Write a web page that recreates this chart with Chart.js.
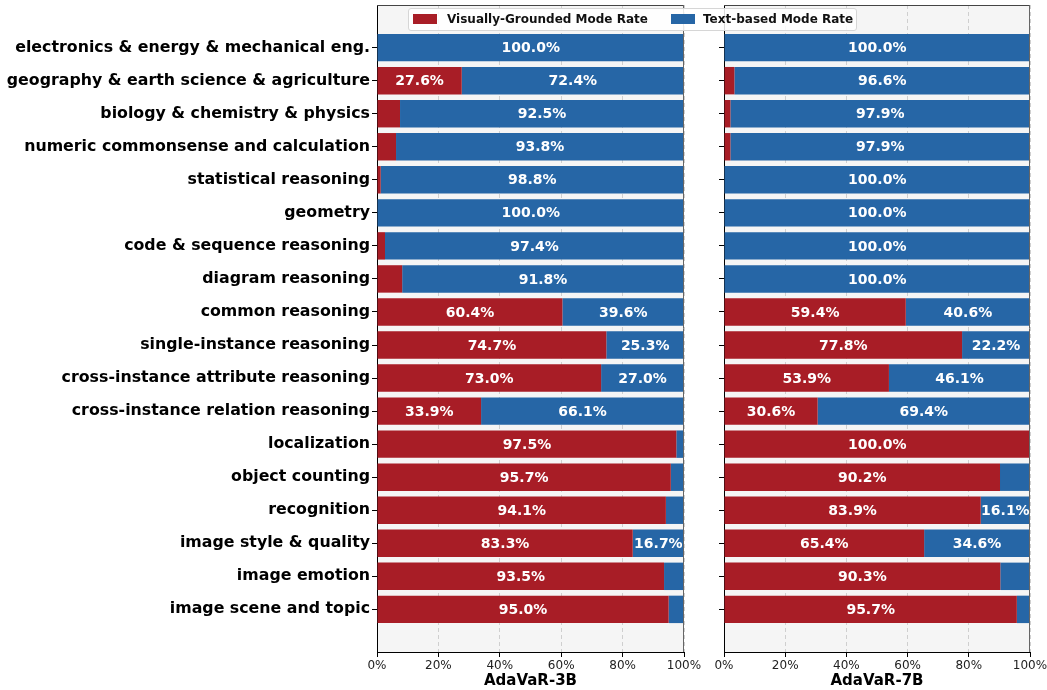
<!DOCTYPE html>
<html>
<head>
<meta charset="utf-8">
<script src="https://cdn.jsdelivr.net/npm/chart.js@4.4.0/dist/chart.umd.min.js"></script>
<style>
  html, body { margin: 0; padding: 0; background: #ffffff; }
  #wrap { position: relative; width: 1047px; height: 690px; font-family: "DejaVu Sans", sans-serif; }
  canvas { position: absolute; left: 0; top: 0; }
  #legend { position: absolute; left: 408px; top: 8px; width: 447px; height: 21px;
    background: rgba(255,255,255,0.85); border: 1px solid #d6d6d6; border-radius: 3px;
    font-weight: bold; font-size: 12px; color: #111; z-index: 5; }
  .sw { position: absolute; top: 5px; width: 24px; height: 10px; }
  .lt { position: absolute; top: 3px; line-height: 14px; white-space: nowrap; }
</style>
</head>
<body>
<div id="wrap">
  <canvas id="c1" width="1047" height="690"></canvas>
  <canvas id="c2" width="1047" height="690"></canvas>
  <div id="legend">
    <div class="sw" style="left:4px;background:rgb(168,29,38)"></div>
    <div class="lt" style="left:38px">Visually-Grounded Mode Rate</div>
    <div class="sw" style="left:262px;background:rgb(38,102,166)"></div>
    <div class="lt" style="left:294px">Text-based Mode Rate</div>
  </div>
</div>
<script>
const categories = [
  "electronics & energy & mechanical eng.",
  "geography & earth science & agriculture",
  "biology & chemistry & physics",
  "numeric commonsense and calculation",
  "statistical reasoning",
  "geometry",
  "code & sequence reasoning",
  "diagram reasoning",
  "common reasoning",
  "single-instance reasoning",
  "cross-instance attribute reasoning",
  "cross-instance relation reasoning",
  "localization",
  "object counting",
  "recognition",
  "image style & quality",
  "image emotion",
  "image scene and topic"
];
const seriesNames = ["Visually-Grounded Mode Rate", "Text-based Mode Rate"];
const visual3B = [0.0, 27.6, 7.5, 6.2, 1.2, 0.0, 2.6, 8.2, 60.4, 74.7, 73.0, 33.9, 97.5, 95.7, 94.1, 83.3, 93.5, 95.0];
const text3B   = [100.0, 72.4, 92.5, 93.8, 98.8, 100.0, 97.4, 91.8, 39.6, 25.3, 27.0, 66.1, 2.5, 4.3, 5.9, 16.7, 6.5, 5.0];
const visual7B = [0.0, 3.4, 2.1, 2.1, 0.0, 0.0, 0.0, 0.0, 59.4, 77.8, 53.9, 30.6, 100.0, 90.2, 83.9, 65.4, 90.3, 95.7];
const text7B   = [100.0, 96.6, 97.9, 97.9, 100.0, 100.0, 100.0, 100.0, 40.6, 22.2, 46.1, 69.4, 0.0, 9.8, 16.1, 34.6, 9.7, 4.3];
const xTicks = [0, 20, 40, 60, 80, 100];
const panelTitles = ["AdaVaR-3B", "AdaVaR-7B"];

const RED = "rgb(168,29,38)";
const BLUE = "rgb(38,102,166)";

Chart.defaults.font.family = "'DejaVu Sans', sans-serif";
Chart.defaults.color = "#111";

const bgPlugin = {
  id: "bgPlugin",
  beforeDraw(chart) {
    const a = chart.chartArea, ctx = chart.ctx;
    ctx.save();
    ctx.fillStyle = "#f5f5f5";
    ctx.fillRect(a.left, a.top, a.right - a.left, a.bottom - a.top);
    ctx.restore();
  },
  afterDraw(chart) {
    const a = chart.chartArea, ctx = chart.ctx;
    ctx.save();
    ctx.lineWidth = 1;
    ctx.strokeStyle = "#444";
    ctx.beginPath(); ctx.moveTo(a.left, a.top + 0.5); ctx.lineTo(a.right, a.top + 0.5); ctx.stroke();
    ctx.strokeStyle = "#666";
    ctx.beginPath(); ctx.moveTo(a.right - 0.5, a.top); ctx.lineTo(a.right - 0.5, a.bottom); ctx.stroke();
    ctx.restore();
  }
};

const labelPlugin = {
  id: "labelPlugin",
  afterDatasetsDraw(chart) {
    const ctx = chart.ctx;
    ctx.save();
    ctx.font = "bold 14px 'DejaVu Sans'";
    ctx.fillStyle = "#ffffff";
    ctx.textAlign = "center";
    ctx.textBaseline = "middle";
    chart.data.datasets.forEach((ds, di) => {
      const meta = chart.getDatasetMeta(di);
      meta.data.forEach((el, i) => {
        const v = ds.data[i].x;
        if (v >= 10) {
          const cx = (el.x + el.base) / 2;
          ctx.fillText(v.toFixed(1) + "%", cx, el.y + 1);
        }
      });
    });
    ctx.restore();
  }
};

function makeChart(id, visual, text, title, showLabels, padLeftWidth, padRight) {
  const toPts = arr => arr.map((v, i) => ({ x: v, y: i }));
  return new Chart(document.getElementById(id), {
    type: "bar",
    data: {
      datasets: [
        { label: seriesNames[0], data: toPts(visual), backgroundColor: RED, barPercentage: 0.83, categoryPercentage: 1.0, borderWidth: 0 },
        { label: seriesNames[1], data: toPts(text), backgroundColor: BLUE, barPercentage: 0.83, categoryPercentage: 1.0, borderWidth: 0 }
      ]
    },
    options: {
      indexAxis: "y",
      responsive: false,
      animation: false,
      layout: { padding: { left: 0, right: padRight, top: 5, bottom: 0 } },
      plugins: { legend: { display: false }, tooltip: { enabled: false } },
      scales: {
        x: {
          type: "linear",
          stacked: true,
          min: 0, max: 100,
          afterBuildTicks(scale) { scale.ticks = xTicks.map(v => ({ value: v })); },
          afterFit(scale) { scale.height = 38; scale.paddingLeft = 0; scale.paddingRight = 0; },
          ticks: { callback: v => v + "%", font: { size: 12 }, color: "#222", padding: 2, maxRotation: 0, autoSkip: false },
          grid: { color: "#cfcfcf", lineWidth: 1, tickLength: 5, tickColor: "#000", drawTicks: true },
          border: { color: "#000", width: 1, dash: [4, 3] },
          title: { display: true, text: title, font: { size: 15, weight: "bold" }, color: "#000", padding: { top: 0, bottom: 0 } }
        },
        y: {
          type: "linear",
          stacked: true,
          reverse: true,
          offset: false,
          min: -1.29, max: 18.29,
          afterBuildTicks(scale) { scale.ticks = categories.map((c, i) => ({ value: i })); },
          afterFit(scale) { scale.width = padLeftWidth; scale.paddingTop = 0; scale.paddingBottom = 0; },
          ticks: {
            display: showLabels,
            autoSkip: false,
            callback: v => categories[v],
            font: { size: 15.8, weight: "bold" },
            color: "#000",
            padding: 2
          },
          grid: { drawOnChartArea: false, offset: false, tickLength: 5, tickColor: "#000" },
          border: { color: "#000", width: 1 }
        }
      }
    },
    plugins: [bgPlugin, labelPlugin]
  });
}

makeChart("c1", visual3B, text3B, panelTitles[0], true, 377, 1047 - 684);
makeChart("c2", visual7B, text7B, panelTitles[1], false, 724, 1047 - 1030);
</script>
</body>
</html>
